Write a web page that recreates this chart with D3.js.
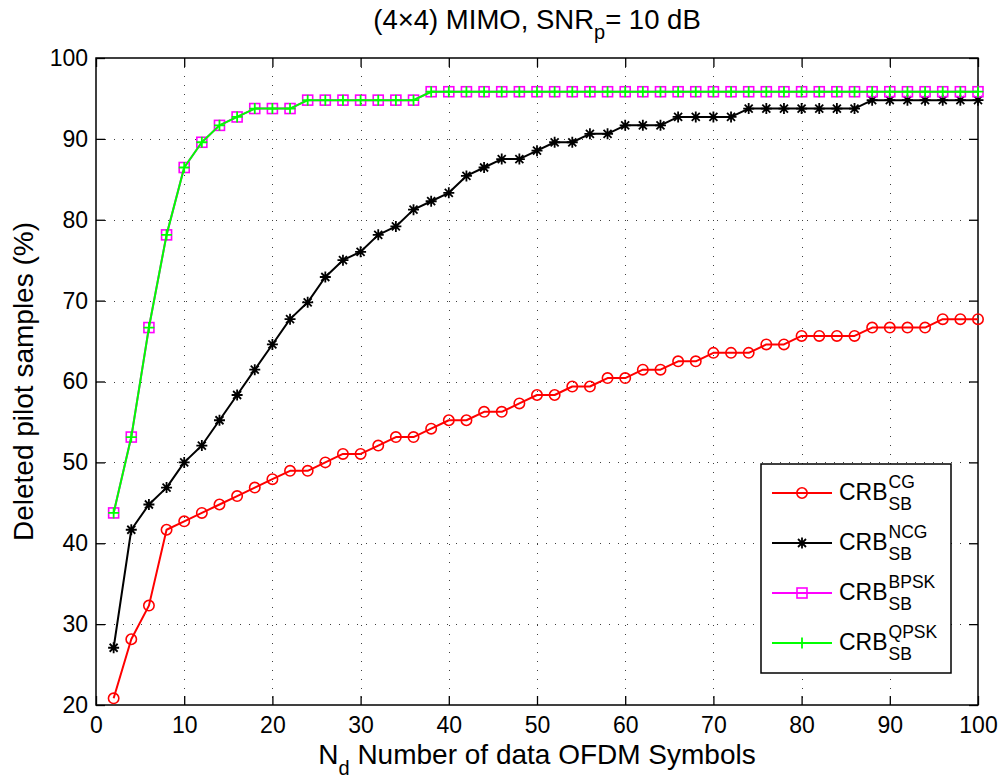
<!DOCTYPE html>
<html>
<head>
<meta charset="utf-8">
<script src="https://cdn.jsdelivr.net/npm/d3@7"></script>
<style>
  html, body { margin: 0; padding: 0; background: #fff; }
  svg { display: block; font-family: "Liberation Sans", Arial, Helvetica, sans-serif; }
</style>
</head>
<body>
<svg id="chart" width="1002" height="778"></svg>
<script>
// ---- data ----
const nd = [2,4,6,8,10,12,14,16,18,20,22,24,26,28,30,32,34,36,38,40,42,44,46,48,50,
            52,54,56,58,60,62,64,66,68,70,72,74,76,78,80,82,84,86,88,90,92,94,96,98,100];
const crbCG = [20.83,28.13,32.29,41.67,42.71,43.75,44.79,45.83,46.88,47.92,48.96,48.96,50.00,51.04,51.04,
               52.08,53.13,53.13,54.17,55.21,55.21,56.25,56.25,57.29,58.33,58.33,59.38,59.38,60.42,60.42,
               61.46,61.46,62.50,62.50,63.54,63.54,63.54,64.58,64.58,65.63,65.63,65.63,65.63,66.67,66.67,
               66.67,66.67,67.71,67.71,67.71];
const crbNCG = [27.08,41.67,44.79,46.88,50.00,52.08,55.21,58.33,61.46,64.58,67.71,69.79,72.92,75.00,76.04,
                78.13,79.17,81.25,82.29,83.33,85.42,86.46,87.50,87.50,88.54,89.58,89.58,90.63,90.63,91.67,
                91.67,91.67,92.71,92.71,92.71,92.71,93.75,93.75,93.75,93.75,93.75,93.75,93.75,94.79,94.79,
                94.79,94.79,94.79,94.79,94.79];
const crbBPSK = [43.75,53.13,66.67,78.13,86.46,89.58,91.67,92.71,93.75,93.75,93.75,94.79,94.79,94.79,94.79,
                 94.79,94.79,94.79,95.83,95.83,95.83,95.83,95.83,95.83,95.83,95.83,95.83,95.83,95.83,95.83,
                 95.83,95.83,95.83,95.83,95.83,95.83,95.83,95.83,95.83,95.83,95.83,95.83,95.83,95.83,95.83,
                 95.83,95.83,95.83,95.83,95.83];
const crbQPSK = [43.75,53.13,66.67,78.13,86.46,89.58,91.67,92.71,93.75,93.75,93.75,94.79,94.79,94.79,94.79,
                 94.79,94.79,94.79,95.83,95.83,95.83,95.83,95.83,95.83,95.83,95.83,95.83,95.83,95.83,95.83,
                 95.83,95.83,95.83,95.83,95.83,95.83,95.83,95.83,95.83,95.83,95.83,95.83,95.83,95.83,95.83,
                 95.83,95.83,95.83,95.83,95.83];
const xTicks = [0,10,20,30,40,50,60,70,80,90,100];
const yTicks = [20,30,40,50,60,70,80,90,100];
const seriesNames = ["CG","NCG","BPSK","QPSK"];

// ---- layout ----
const L = 96, R = 978, T = 58, B = 705;
const svg = d3.select("#chart");
const x = d3.scaleLinear().domain([0,100]).range([L,R]);
const y = d3.scaleLinear().domain([20,100]).range([B,T]);

// grid
const grid = svg.append("g").attr("stroke","#000").attr("stroke-width",1)
  .attr("stroke-dasharray","1,8").attr("opacity",0.75);
grid.selectAll("line.v").data(xTicks.slice(1,-1)).join("line")
  .attr("x1",d=>Math.round(x(d))+0.5).attr("x2",d=>Math.round(x(d))+0.5).attr("y1",T).attr("y2",B);
grid.selectAll("line.h").data(yTicks.slice(1,-1)).join("line")
  .attr("y1",d=>Math.round(y(d))+0.5).attr("y2",d=>Math.round(y(d))+0.5).attr("x1",L).attr("x2",R);

// axes
function styleAxis(g){
  g.select(".domain").remove();
  g.selectAll(".tick line").attr("stroke","#000").attr("stroke-width",1.3);
  g.selectAll(".tick text").attr("fill","#000").attr("font-size","23px")
   .attr("font-family",'"Liberation Sans", Arial, sans-serif');
}
svg.append("g").attr("transform",`translate(0,${B})`)
  .call(d3.axisBottom(x).tickValues(xTicks).tickSizeInner(-9).tickSizeOuter(0).tickPadding(12))
  .call(styleAxis);
svg.append("g").attr("transform",`translate(0,${T})`)
  .call(d3.axisTop(x).tickValues(xTicks).tickSizeInner(-9).tickSizeOuter(0).tickFormat(""))
  .call(styleAxis);
svg.append("g").attr("transform",`translate(${L},0)`)
  .call(d3.axisLeft(y).tickValues(yTicks).tickSizeInner(-9).tickSizeOuter(0).tickPadding(8))
  .call(styleAxis);
svg.append("g").attr("transform",`translate(${R},0)`)
  .call(d3.axisRight(y).tickValues(yTicks).tickSizeInner(-9).tickSizeOuter(0).tickFormat(""))
  .call(styleAxis);

// frame
svg.append("rect").attr("x",L).attr("y",T).attr("width",R-L).attr("height",B-T)
  .attr("fill","none").attr("stroke","#000").attr("stroke-width",1.5);

// markers
function marker(g, type, color){
  if(type==="circle"){
    g.append("circle").attr("r",5.2).attr("fill","none").attr("stroke",color).attr("stroke-width",1.6);
  } else if(type==="square"){
    g.append("rect").attr("x",-5).attr("y",-5).attr("width",10).attr("height",10)
      .attr("fill","none").attr("stroke",color).attr("stroke-width",1.6);
  } else if(type==="star"){
    g.append("path").attr("d","M-5.5,0H5.5M0,-5.5V5.5M-4,-4L4,4M-4,4L4,-4")
      .attr("stroke",color).attr("stroke-width",1.8).attr("fill","none");
  } else if(type==="plus"){
    g.append("path").attr("d","M-5.5,0H5.5M0,-5.5V5.5")
      .attr("stroke",color).attr("stroke-width",1.8).attr("fill","none");
  }
}

const series = [
  {vals: crbCG, color:"#ff0000", m:"circle"},
  {vals: crbNCG, color:"#000000", m:"star"},
  {vals: crbBPSK, color:"#ff00ff", m:"square"},
  {vals: crbQPSK, color:"#00ff00", m:"plus"}
];
const line = d3.line().x(d=>x(d[0])).y(d=>y(d[1]));
series.forEach(s=>{
  const pts = nd.map((n,i)=>[n, s.vals[i]]);
  const g = svg.append("g");
  g.append("path").datum(pts).attr("d",line).attr("fill","none")
    .attr("stroke",s.color).attr("stroke-width",2).attr("stroke-linejoin","round");
  g.selectAll("g.m").data(pts).join("g")
    .attr("transform",d=>`translate(${x(d[0])},${y(d[1])})`)
    .each(function(){ marker(d3.select(this), s.m, s.color); });
});

// title
const title = svg.append("text").attr("x",(L+R)/2).attr("y",29).attr("text-anchor","middle")
  .attr("font-size","27.5px").attr("fill","#000");
title.append("tspan").text("(4\u00d74) MIMO, SNR");
title.append("tspan").attr("dy",10).attr("font-size","20px").text("p");
title.append("tspan").attr("dy",-10).text("= 10 dB");

// x label
const xl = svg.append("text").attr("x",(L+R)/2).attr("y",764).attr("text-anchor","middle")
  .attr("font-size","28px").attr("fill","#000");
xl.append("tspan").text("N");
xl.append("tspan").attr("dy",11).attr("font-size","20px").text("d");
xl.append("tspan").attr("dy",-11).text(" Number of data OFDM Symbols");

// y label
svg.append("text").attr("transform",`translate(33,${(T+B)/2}) rotate(-90)`)
  .attr("text-anchor","middle").attr("font-size","28px").attr("fill","#000")
  .text("Deleted pilot samples (%)");

// legend
const lg = svg.append("g");
lg.append("rect").attr("x",761).attr("y",464).attr("width",190).attr("height",209)
  .attr("fill","#fff").attr("stroke","#000").attr("stroke-width",1.5);
series.forEach((s,i)=>{
  const cy = 493 + i*50;
  lg.append("line").attr("x1",772).attr("x2",832).attr("y1",cy).attr("y2",cy)
    .attr("stroke",s.color).attr("stroke-width",2);
  const mg = lg.append("g").attr("transform",`translate(802,${cy})`);
  marker(mg, s.m, s.color);
  const t = lg.append("text").attr("x",839).attr("y",cy+7).attr("font-size","23px").attr("fill","#000").text("CRB");
  const w = t.node().getComputedTextLength();
  lg.append("text").attr("x",839+w+1).attr("y",cy-5).attr("font-size","17.5px").attr("fill","#000").text(seriesNames[i]);
  lg.append("text").attr("x",839+w+1).attr("y",cy+17).attr("font-size","17.5px").attr("fill","#000").text("SB");
});
</script>
</body>
</html>
